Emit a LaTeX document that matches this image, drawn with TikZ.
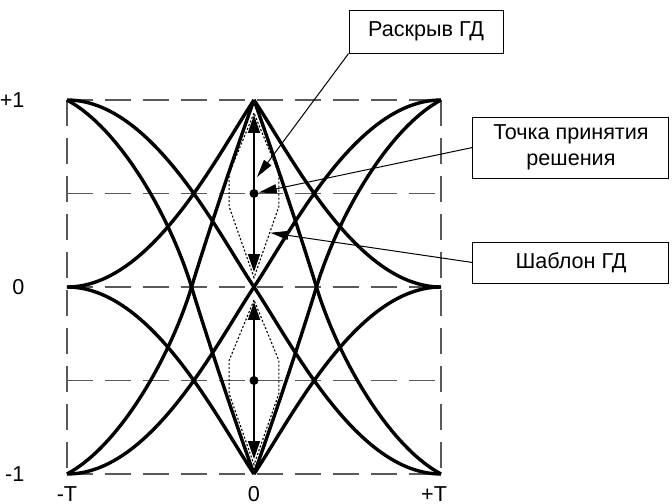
\documentclass[tikz,border=0pt]{standalone}
\usepackage{fontspec}
\setmainfont{Liberation Sans}
\usetikzlibrary{arrows.meta,positioning}

\begin{document}
\begin{tikzpicture}[x=93.5pt,y=93.5pt,font=\fontsize{10.8}{13.3}\selectfont,
  gridline/.style={black!65,line width=0.9pt,dash pattern=on 13pt off 6pt},
  eyeline/.style={line width=1.7pt,line join=round},
  tmpl/.style={line width=0.55pt,dash pattern=on 1pt off 1pt},
  note/.style={draw,line width=0.5pt,inner sep=0pt,align=center},
  dot/.style={circle,fill,inner sep=0pt,minimum size=4.5pt},
  leader/.style={-{Triangle[length=9pt,width=4.5pt]},line width=0.5pt},
  opening/.style={{Triangle[length=9pt,width=6pt]}-{Triangle[length=9pt,width=6pt]},line width=0.9pt}]
\useasboundingbox (-1.3583,-1.1604) rectangle (2.2353,1.5348);
\foreach \yv in {1,0.5,0,-0.5,-1}
  \draw[gridline] (-1,\yv) -- (1,\yv);
\draw[gridline] (-1,1) -- (-1,-1);
\draw[gridline] (1,1) -- (1,-1);
\foreach \sx in {1,-1}
  \foreach \sy in {1,-1}
  {
    \begin{scope}[xscale=\sx,yscale=\sy]
      \draw[eyeline] (-1,1) .. controls (-0.55,1) and (-0.2,0.3) .. (0,0);
      \draw[eyeline] (-1,0) .. controls (-0.55,0) and (-0.2,0.7) .. (0,1);
      \draw[eyeline] (-1,1) .. controls (-0.72,0.85) and (-0.45,0.38) .. (-0.334,0)
        .. controls (-0.244,-0.295) and (-0.1,-0.72) .. (0,-1);
    \end{scope}
  }
\foreach \yc/\nm in {0.5/dU,-0.5/dL}
{
  \draw[tmpl] (0,\yc+0.43) -- (-0.133,\yc+0.107) -- (-0.133,\yc-0.07) -- (0,\yc-0.45)
    -- (0.133,\yc-0.07) -- (0.133,\yc+0.107) -- cycle;
  \draw[opening] (0,\yc+0.42) -- (0,\yc-0.42);
  \node[dot] (\nm) at (0,\yc) {};
}
\node[note,minimum width=77pt,minimum height=21.5pt] (open) at (0.920,1.366) {Раскрыв ГД};
\node[note,minimum width=98pt,minimum height=30.5pt] (decide) at (1.695,0.746) {Точка принятия\\решения};
\node[note,minimum width=98pt,minimum height=20.5pt,below=31.5pt of decide] (mask) {Шаблон ГД};
\coordinate (openTip) at (0.016,0.588);
\coordinate (maskTip) at (0.088,0.29);
\draw[leader] (open.south west) -- (openTip);
\draw[leader] (decide.west) -- (dU);
\draw[leader] (mask.west) -- (maskTip);
\node[anchor=east] (yTop) at (-1.19,1) {+1};
\node[anchor=east] (yMid) at (-1.19,0) {0};
\node[anchor=east] (yBot) at (-1.19,-1) {-1};
\node (xLeft) at (-1,-1.105) {-T};
\node (xMid) at (0,-1.105) {0};
\node (xRight) at (0.963,-1.105) {+T};
\end{tikzpicture}
\end{document}
